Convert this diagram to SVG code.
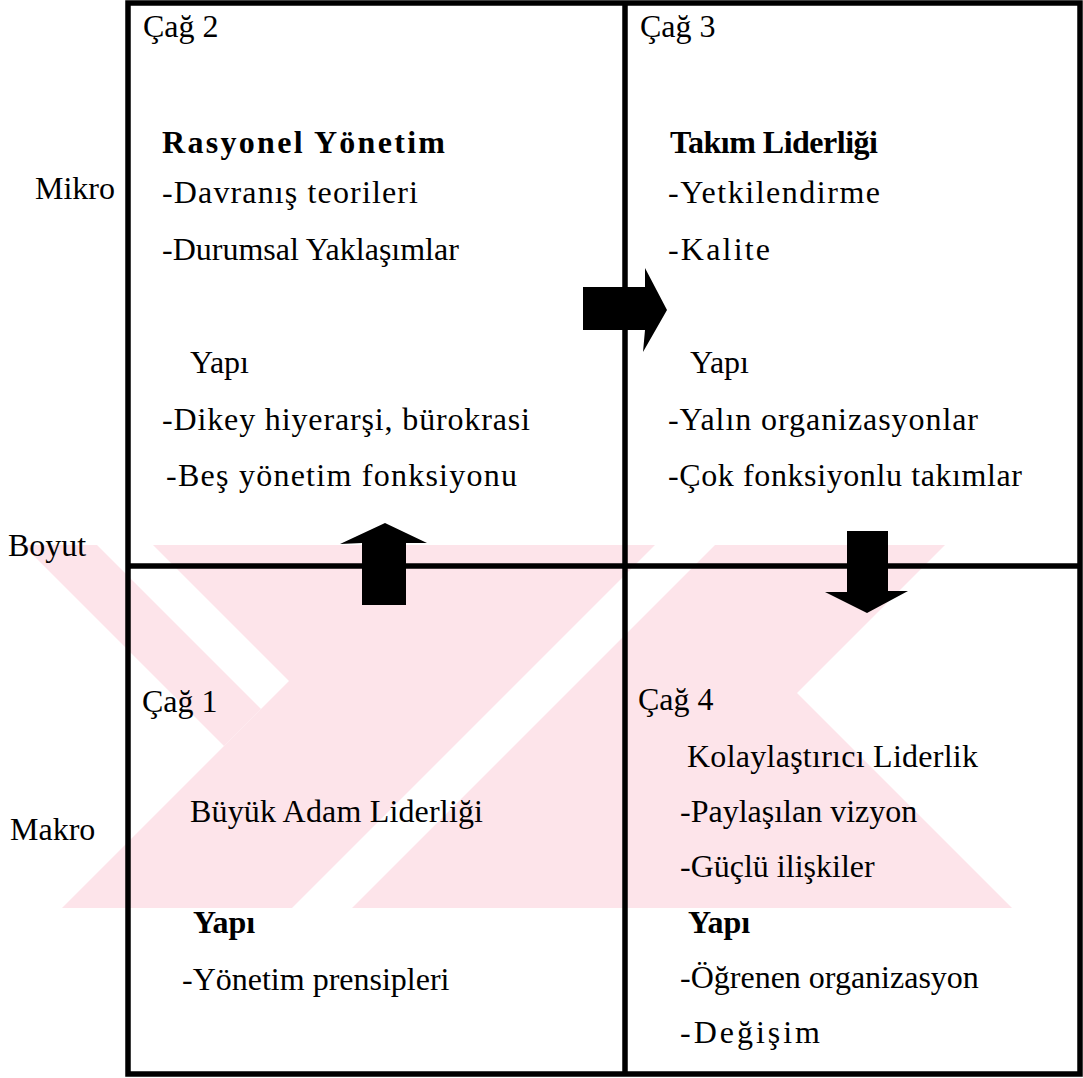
<svg xmlns="http://www.w3.org/2000/svg" width="1083" height="1078" viewBox="0 0 1083 1078">
  <style>
    .t { font-family: "Liberation Serif", "Times New Roman", serif; font-size: 32px; fill: #000; }
    .b { font-weight: bold; }
    .frame { stroke: #000; stroke-width: 5.5; fill: none; }
    .arrow { fill: #000; }
    .wm { fill: #fde4ea; }
    .wmcut { fill: #ffffff; }
  </style>
  <defs>
    <clipPath id="wmclip">
      <rect x="0" y="545" width="1083" height="363"/>
    </clipPath>
  </defs>
  <rect width="1083" height="1078" fill="#fff"/>

  <!-- background mark: notched pink body, one pink stripe, one white stripe -->
  <g id="watermark" clip-path="url(#wmclip)">
    <polygon class="wm" points="153,545 945,545 797,693 1012,908 62,908 289,681"/>
    <polygon class="wm" points="23,545 97,545 261,709 224,746"/>
    <polygon class="wmcut" points="655,545 715,545 352,908 292,908"/>
  </g>

  <!-- axis labels -->
  <g id="axis-labels">
    <text class="t" x="35" y="199">Mikro</text>
    <text class="t" x="8" y="556">Boyut</text>
    <text class="t" x="10" y="840">Makro</text>
  </g>

  <!-- quadrant grid -->
  <g id="grid">
    <rect class="frame" x="128" y="3" width="952" height="1071"/>
    <line class="frame" x1="625" y1="3" x2="625" y2="1074"/>
    <line class="frame" x1="128" y1="566" x2="1080" y2="566"/>
  </g>

  <g id="cag2">
    <text class="t" x="143" y="37">Çağ 2</text>
    <text class="t b" x="162" y="153" textLength="283" lengthAdjust="spacing">Rasyonel Yönetim</text>
    <text class="t" x="162" y="203" textLength="256" lengthAdjust="spacing">-Davranış teorileri</text>
    <text class="t" x="162" y="260">-Durumsal Yaklaşımlar</text>
    <text class="t" x="190" y="373">Yapı</text>
    <text class="t" x="162" y="430" textLength="368" lengthAdjust="spacing">-Dikey hiyerarşi, bürokrasi</text>
    <text class="t" x="166" y="486" textLength="351" lengthAdjust="spacing">-Beş yönetim fonksiyonu</text>
  </g>

  <g id="cag3">
    <text class="t" x="640" y="37">Çağ 3</text>
    <text class="t b" x="670" y="153" textLength="208" lengthAdjust="spacing">Takım Liderliği</text>
    <text class="t" x="668" y="203" textLength="212" lengthAdjust="spacing">-Yetkilendirme</text>
    <text class="t" x="668" y="260" textLength="102" lengthAdjust="spacing">-Kalite</text>
    <text class="t" x="690" y="373">Yapı</text>
    <text class="t" x="668" y="430" textLength="310" lengthAdjust="spacing">-Yalın organizasyonlar</text>
    <text class="t" x="668" y="486" textLength="354" lengthAdjust="spacing">-Çok fonksiyonlu takımlar</text>
  </g>

  <g id="cag1">
    <text class="t" x="142" y="712">Çağ 1</text>
    <text class="t" x="190" y="822" textLength="293" lengthAdjust="spacing">Büyük Adam Liderliği</text>
    <text class="t b" x="193" y="933">Yapı</text>
    <text class="t" x="182" y="990">-Yönetim prensipleri</text>
  </g>

  <g id="cag4">
    <text class="t" x="638" y="710">Çağ 4</text>
    <text class="t" x="687" y="767" textLength="291" lengthAdjust="spacing">Kolaylaştırıcı Liderlik</text>
    <text class="t" x="680" y="822">-Paylaşılan vizyon</text>
    <text class="t" x="680" y="877">-Güçlü ilişkiler</text>
    <text class="t b" x="688" y="933">Yapı</text>
    <text class="t" x="680" y="988">-Öğrenen organizasyon</text>
    <text class="t" x="680" y="1043" textLength="140" lengthAdjust="spacing">-Değişim</text>
  </g>

  <!-- block arrows between eras -->
  <g id="connectors">
    <polygon class="arrow" points="583,287 645,287 645,268 667,310 643,352 645,330 583,330"/>
    <polygon class="arrow" points="362,605 362,543 340,544 385,523 427,543 406,543 406,605"/>
    <polygon class="arrow" points="847,531 888,531 888,591 908,591 867,613 825,592 847,592"/>
  </g>
</svg>
